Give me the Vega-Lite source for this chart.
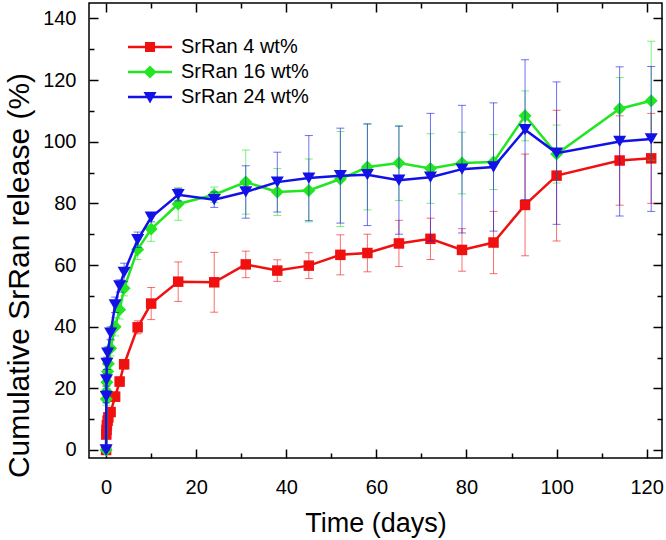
{
  "$schema": "https://vega.github.io/schema/vega-lite/v6.json",
  "width": 573,
  "height": 455,
  "autosize": {"type": "none"},
  "padding": {"left": 89, "top": 3, "right": 4, "bottom": 82},
  "background": "white",
  "config": {
    "view": {"stroke": "black", "strokeWidth": 1.5},
    "font": "Liberation Sans",
    "axis": {"grid": false, "domain": false, "tickColor": "black", "tickWidth": 1.5, "labelColor": "black", "titleColor": "black", "labelFont": "Liberation Sans", "titleFont": "Liberation Sans", "titleFontWeight": "normal"}
  },
  "data": {"values": [
    {"s": "SrRan 4 wt%", "t": 0, "v": 0, "e": 0},
    {"s": "SrRan 4 wt%", "t": 0.042, "v": 5.0, "e": 1},
    {"s": "SrRan 4 wt%", "t": 0.083, "v": 6.5, "e": 1},
    {"s": "SrRan 4 wt%", "t": 0.167, "v": 8.0, "e": 1},
    {"s": "SrRan 4 wt%", "t": 0.33, "v": 9.5, "e": 1.2},
    {"s": "SrRan 4 wt%", "t": 0.5, "v": 10.6, "e": 1.2},
    {"s": "SrRan 4 wt%", "t": 1, "v": 12.3, "e": 1.2},
    {"s": "SrRan 4 wt%", "t": 2, "v": 17.3, "e": 1.5},
    {"s": "SrRan 4 wt%", "t": 3, "v": 22.2, "e": 1.5},
    {"s": "SrRan 4 wt%", "t": 4, "v": 27.8, "e": 1.5},
    {"s": "SrRan 4 wt%", "t": 7, "v": 39.8, "e": 2.1},
    {"s": "SrRan 4 wt%", "t": 10, "v": 47.5, "e": 5.2},
    {"s": "SrRan 4 wt%", "t": 16, "v": 54.6, "e": 6.4},
    {"s": "SrRan 4 wt%", "t": 24, "v": 54.4, "e": 9.7},
    {"s": "SrRan 4 wt%", "t": 31, "v": 60.2, "e": 4.3},
    {"s": "SrRan 4 wt%", "t": 38, "v": 58.2, "e": 3.5},
    {"s": "SrRan 4 wt%", "t": 45, "v": 59.8, "e": 4.2},
    {"s": "SrRan 4 wt%", "t": 52, "v": 63.3, "e": 6.5},
    {"s": "SrRan 4 wt%", "t": 58, "v": 63.9, "e": 6.1},
    {"s": "SrRan 4 wt%", "t": 65, "v": 67.0, "e": 7.5},
    {"s": "SrRan 4 wt%", "t": 72, "v": 68.5, "e": 6.7},
    {"s": "SrRan 4 wt%", "t": 79, "v": 64.9, "e": 6.9},
    {"s": "SrRan 4 wt%", "t": 86, "v": 67.3, "e": 10.1},
    {"s": "SrRan 4 wt%", "t": 93, "v": 79.5, "e": 16.5},
    {"s": "SrRan 4 wt%", "t": 100, "v": 89.0, "e": 21.2},
    {"s": "SrRan 4 wt%", "t": 114, "v": 93.9, "e": 14.5},
    {"s": "SrRan 4 wt%", "t": 121, "v": 94.6, "e": 14.6},
    {"s": "SrRan 16 wt%", "t": 0, "v": 0, "e": 0},
    {"s": "SrRan 16 wt%", "t": 0.042, "v": 16.5, "e": 2},
    {"s": "SrRan 16 wt%", "t": 0.083, "v": 19.0, "e": 2},
    {"s": "SrRan 16 wt%", "t": 0.167, "v": 22.0, "e": 2},
    {"s": "SrRan 16 wt%", "t": 0.33, "v": 25.5, "e": 2},
    {"s": "SrRan 16 wt%", "t": 0.5, "v": 28.0, "e": 2},
    {"s": "SrRan 16 wt%", "t": 1, "v": 33.0, "e": 2.5},
    {"s": "SrRan 16 wt%", "t": 2, "v": 40.0, "e": 3},
    {"s": "SrRan 16 wt%", "t": 3, "v": 45.5, "e": 3},
    {"s": "SrRan 16 wt%", "t": 4, "v": 52.5, "e": 2.5},
    {"s": "SrRan 16 wt%", "t": 7, "v": 65.0, "e": 3.2},
    {"s": "SrRan 16 wt%", "t": 10, "v": 71.7, "e": 4},
    {"s": "SrRan 16 wt%", "t": 16, "v": 79.8, "e": 5.3},
    {"s": "SrRan 16 wt%", "t": 24, "v": 82.8, "e": 2.5},
    {"s": "SrRan 16 wt%", "t": 31, "v": 86.9, "e": 10.4},
    {"s": "SrRan 16 wt%", "t": 38, "v": 83.7, "e": 7.6},
    {"s": "SrRan 16 wt%", "t": 45, "v": 84.2, "e": 10.2},
    {"s": "SrRan 16 wt%", "t": 52, "v": 87.9, "e": 15.4},
    {"s": "SrRan 16 wt%", "t": 58, "v": 91.8, "e": 13.9},
    {"s": "SrRan 16 wt%", "t": 65, "v": 93.1, "e": 12.2},
    {"s": "SrRan 16 wt%", "t": 72, "v": 91.3, "e": 11.3},
    {"s": "SrRan 16 wt%", "t": 79, "v": 93.1, "e": 10},
    {"s": "SrRan 16 wt%", "t": 86, "v": 93.4, "e": 8.9},
    {"s": "SrRan 16 wt%", "t": 93, "v": 108.4, "e": 8.1},
    {"s": "SrRan 16 wt%", "t": 100, "v": 96.0, "e": 9.4},
    {"s": "SrRan 16 wt%", "t": 114, "v": 110.7, "e": 10.1},
    {"s": "SrRan 16 wt%", "t": 121, "v": 113.3, "e": 19.3},
    {"s": "SrRan 24 wt%", "t": 0, "v": 0, "e": 0},
    {"s": "SrRan 24 wt%", "t": 0.042, "v": 17.3, "e": 2},
    {"s": "SrRan 24 wt%", "t": 0.083, "v": 22.7, "e": 2},
    {"s": "SrRan 24 wt%", "t": 0.167, "v": 28.1, "e": 2},
    {"s": "SrRan 24 wt%", "t": 0.33, "v": 31.4, "e": 2},
    {"s": "SrRan 24 wt%", "t": 1, "v": 37.9, "e": 2},
    {"s": "SrRan 24 wt%", "t": 2, "v": 47.1, "e": 2.5},
    {"s": "SrRan 24 wt%", "t": 3, "v": 53.2, "e": 2},
    {"s": "SrRan 24 wt%", "t": 4, "v": 57.6, "e": 3},
    {"s": "SrRan 24 wt%", "t": 7, "v": 68.2, "e": 2.5},
    {"s": "SrRan 24 wt%", "t": 10, "v": 75.5, "e": 1.5},
    {"s": "SrRan 24 wt%", "t": 16, "v": 82.8, "e": 2},
    {"s": "SrRan 24 wt%", "t": 24, "v": 81.2, "e": 2.5},
    {"s": "SrRan 24 wt%", "t": 31, "v": 83.7, "e": 8.5},
    {"s": "SrRan 24 wt%", "t": 38, "v": 86.9, "e": 9.7},
    {"s": "SrRan 24 wt%", "t": 45, "v": 88.2, "e": 13.8},
    {"s": "SrRan 24 wt%", "t": 52, "v": 89.0, "e": 15.4},
    {"s": "SrRan 24 wt%", "t": 58, "v": 89.3, "e": 16.5},
    {"s": "SrRan 24 wt%", "t": 65, "v": 87.5, "e": 17.5},
    {"s": "SrRan 24 wt%", "t": 72, "v": 88.5, "e": 20.7},
    {"s": "SrRan 24 wt%", "t": 79, "v": 91.1, "e": 20.7},
    {"s": "SrRan 24 wt%", "t": 86, "v": 91.8, "e": 20.8},
    {"s": "SrRan 24 wt%", "t": 93, "v": 103.9, "e": 22.7},
    {"s": "SrRan 24 wt%", "t": 100, "v": 96.3, "e": 23.1},
    {"s": "SrRan 24 wt%", "t": 114, "v": 100.1, "e": 24.2},
    {"s": "SrRan 24 wt%", "t": 121, "v": 100.9, "e": 23.5}
  ]},
  "resolve": {"axis": {"x": "independent", "y": "independent"}},
  "layer": [
    {
      "transform": [{"filter": "datum.t < -100"}],
      "mark": {"type": "point", "opacity": 0},
      "encoding": {
        "x": {"field": "t", "type": "quantitative", "scale": {"domain": [-3.8, 123.4], "nice": false, "zero": false},
          "axis": {"orient": "bottom", "values": [0,10,20,30,40,50,60,70,80,90,100,110,120],
            "labelExpr": "datum.value % 20 == 0 ? datum.label : ''",
            "tickSize": {"condition": {"test": "datum.value % 20 == 0", "value": -9}, "value": -5},
            "labelFontSize": 20, "labelPadding": 28, "title": "Time (days)", "titleFontSize": 27, "titlePadding": 13}},
        "y": {"field": "v", "type": "quantitative", "scale": {"domain": [-2.6, 145], "nice": false, "zero": false},
          "axis": {"orient": "left", "values": [0,10,20,30,40,50,60,70,80,90,100,110,120,130,140],
            "labelExpr": "datum.value % 20 == 0 ? datum.label : ''",
            "tickSize": {"condition": {"test": "datum.value % 20 == 0", "value": -9}, "value": -5},
            "labelFontSize": 20, "labelPadding": 22, "title": "Cumulative SrRan release (%)", "titleFontSize": 30, "titlePadding": 8, "titleY": 272}}
      }
    },
    {
      "transform": [{"filter": "datum.s == 'SrRan 4 wt%'"}],
      "layer": [
        {"mark": {"type": "errorbar", "ticks": {"size": 8}, "thickness": 1, "opacity": 0.6, "color": "#f01010"},
         "encoding": {"x": {"field": "t", "type": "quantitative", "axis": null}, "y": {"field": "v", "type": "quantitative", "axis": null}, "yError": {"field": "e"}}},
        {"mark": {"type": "line", "strokeWidth": 2.5, "color": "#f01010"},
         "encoding": {"x": {"field": "t", "type": "quantitative", "axis": null}, "y": {"field": "v", "type": "quantitative", "axis": null}}},
        {"mark": {"type": "point", "shape": "square", "filled": true, "size": 110, "opacity": 1, "color": "#f01010"},
         "encoding": {"x": {"field": "t", "type": "quantitative", "axis": null}, "y": {"field": "v", "type": "quantitative", "axis": null}}}
      ]
    },
    {
      "transform": [{"filter": "datum.s == 'SrRan 16 wt%'"}],
      "layer": [
        {"mark": {"type": "errorbar", "ticks": {"size": 8}, "thickness": 1, "opacity": 0.6, "color": "#22e622"},
         "encoding": {"x": {"field": "t", "type": "quantitative", "axis": null}, "y": {"field": "v", "type": "quantitative", "axis": null}, "yError": {"field": "e"}}},
        {"mark": {"type": "line", "strokeWidth": 2.5, "color": "#22e622"},
         "encoding": {"x": {"field": "t", "type": "quantitative", "axis": null}, "y": {"field": "v", "type": "quantitative", "axis": null}}},
        {"mark": {"type": "point", "shape": "diamond", "filled": true, "size": 170, "opacity": 1, "color": "#22e622"},
         "encoding": {"x": {"field": "t", "type": "quantitative", "axis": null}, "y": {"field": "v", "type": "quantitative", "axis": null}}}
      ]
    },
    {
      "transform": [{"filter": "datum.s == 'SrRan 24 wt%'"}],
      "layer": [
        {"mark": {"type": "errorbar", "ticks": {"size": 8}, "thickness": 1, "opacity": 0.6, "color": "#1212e6"},
         "encoding": {"x": {"field": "t", "type": "quantitative", "axis": null}, "y": {"field": "v", "type": "quantitative", "axis": null}, "yError": {"field": "e"}}},
        {"mark": {"type": "line", "strokeWidth": 2.5, "color": "#1212e6"},
         "encoding": {"x": {"field": "t", "type": "quantitative", "axis": null}, "y": {"field": "v", "type": "quantitative", "axis": null}}},
        {"mark": {"type": "point", "shape": "triangle-down", "filled": true, "size": 170, "opacity": 1, "color": "#1212e6"},
         "encoding": {"x": {"field": "t", "type": "quantitative", "axis": null}, "y": {"field": "v", "type": "quantitative", "axis": null}}}
      ]
    },
    {
      "transform": [{"filter": "datum.t < -100"}],
      "mark": {"type": "point", "filled": true, "opacity": 1},
      "encoding": {
        "x": {"field": "t", "type": "quantitative",
          "axis": {"orient": "top", "values": [0,10,20,30,40,50,60,70,80,90,100,110,120], "labels": false, "title": null,
            "tickSize": {"condition": {"test": "datum.value % 20 == 0", "value": -9}, "value": -5}}},
        "y": {"field": "v", "type": "quantitative",
          "axis": {"orient": "right", "values": [0,10,20,30,40,50,60,70,80,90,100,110,120,130,140], "labels": false, "title": null,
            "tickSize": {"condition": {"test": "datum.value % 20 == 0", "value": -9}, "value": -5}}},
        "fill": {"field": "s", "type": "nominal",
          "scale": {"domain": ["SrRan 4 wt%", "SrRan 16 wt%", "SrRan 24 wt%"], "range": ["#f01010", "#22e622", "#1212e6"]},
          "legend": {"orient": "none", "legendX": 51, "legendY": 34, "title": null, "labelFontSize": 20, "labelFont": "Liberation Sans", "labelColor": "black", "symbolSize": 100, "symbolOpacity": 1, "symbolStrokeWidth": 0, "labelOffset": 21, "rowPadding": 5, "padding": 0}},
        "shape": {"field": "s", "type": "nominal",
          "scale": {"domain": ["SrRan 4 wt%", "SrRan 16 wt%", "SrRan 24 wt%"],
            "range": ["M-4.4,-0.25H4.4V0.25H-4.4Z M-1,-1H1V1H-1Z", "M-4.4,-0.25H4.4V0.25H-4.4Z M0,-1.3L1.3,0L0,1.3L-1.3,0Z", "M-4.4,-0.25H4.4V0.25H-4.4Z M-1.3,-1L1.3,-1L0,1.3Z"]},
          "legend": {"orient": "none", "legendX": 51, "legendY": 34, "title": null, "labelFontSize": 20, "labelFont": "Liberation Sans", "labelColor": "black", "symbolSize": 100, "symbolOpacity": 1, "symbolStrokeWidth": 0, "labelOffset": 21, "rowPadding": 5, "padding": 0}}
      }
    }
  ]
}
